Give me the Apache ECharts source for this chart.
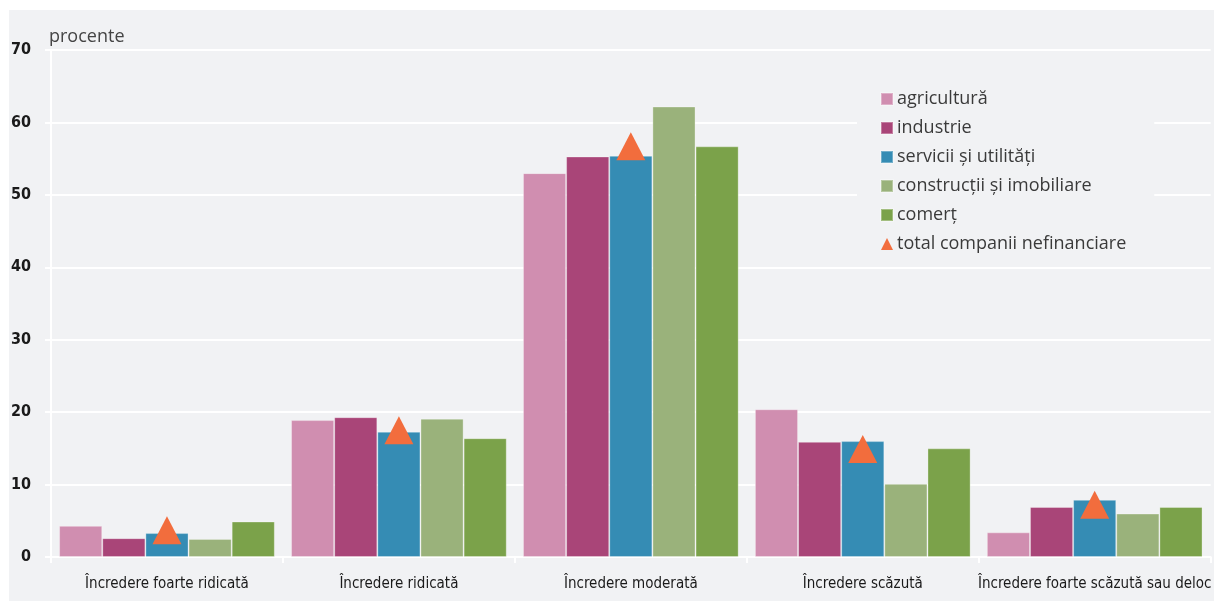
<!DOCTYPE html>
<html>
<head>
<meta charset="utf-8">
<script src="https://cdn.jsdelivr.net/npm/echarts@6/dist/echarts.min.js"></script>
<style>
  html, body { margin: 0; padding: 0; background: #ffffff; }
  #panel { position: absolute; left: 9px; top: 10px; width: 1205px; height: 591px; background: #f1f2f4; }
  #chart { position: absolute; left: -9px; top: -10px; width: 1214px; height: 601px; }
</style>
</head>
<body>
<div id="panel"><div id="chart"></div></div>
<script>
// Categories (confidence level) and per-sector shares, in percent
const categories = [
  'Încredere foarte ridicată',
  'Încredere ridicată',
  'Încredere moderată',
  'Încredere scăzută',
  'Încredere foarte scăzută sau deloc'
];
const agricultura   = [4.3, 18.9, 53.0, 20.4, 3.4];
const industrie     = [2.6, 19.3, 55.3, 15.9, 6.9];
const servicii      = [3.3, 17.3, 55.4, 16.0, 7.9];
const constructii   = [2.5, 19.1, 62.2, 10.1, 6.0];
const comert        = [4.9, 16.4, 56.7, 15.0, 6.9];
const totalCompanii = [3.7, 17.5, 56.7, 14.9, 7.2];

const yTicks = { min: 0, max: 70, interval: 10 };

const narrow = "'Liberation Sans Narrow', 'DejaVu Sans Condensed', 'Arial Narrow', sans-serif";
const body = "'Open Sans', 'Noto Sans', sans-serif";

const barStyle = (color) => ({ color: color, borderColor: 'rgba(255,255,255,0.3)', borderWidth: 1 });

const barSeries = [
  ['agricultură', agricultura, '#d08eb0'],
  ['industrie', industrie, '#a94578'],
  ['servicii și utilități', servicii, '#358cb4'],
  ['construcții și imobiliare', constructii, '#9ab27b'],
  ['comerț', comert, '#7ba24a']
].map(([name, data, color]) => ({
  name: name,
  type: 'bar',
  data: data,
  barGap: '0%',
  barCategoryGap: '7%',
  itemStyle: barStyle(color),
  emphasis: { disabled: true }
}));

const chart = echarts.init(document.getElementById('chart'), null, { renderer: 'canvas' });
chart.setOption({
  backgroundColor: 'transparent',
  animation: false,
  grid: { left: 51, right: -1, top: 50, bottom: 44, containLabel: false },
  legend: {
    orient: 'vertical',
    left: 857,
    top: 80,
    padding: [9, 28, 9, 23],
    backgroundColor: '#f1f2f4',
    itemWidth: 12,
    itemHeight: 12,
    itemGap: 9,
    textStyle: { fontFamily: body, fontSize: 18, color: '#3a3a3a', lineHeight: 20, padding: [0, 0, 0, -1] },
    data: [
      { name: 'agricultură', icon: 'rect' },
      { name: 'industrie', icon: 'rect' },
      { name: 'servicii și utilități', icon: 'rect' },
      { name: 'construcții și imobiliare', icon: 'rect' },
      { name: 'comerț', icon: 'rect' },
      { name: 'total companii nefinanciare', icon: 'triangle', itemStyle: { color: '#f26d3d', opacity: 1 } }
    ]
  },
  xAxis: {
    type: 'category',
    data: categories,
    axisLine: { show: true, lineStyle: { color: '#ffffff', width: 2 } },
    axisTick: { show: true, length: 6, lineStyle: { color: '#ffffff', width: 2 } },
    axisLabel: { interval: 0, fontFamily: narrow, fontSize: 15, color: '#1a1a1a', margin: 20 },
    splitLine: { show: false }
  },
  yAxis: {
    type: 'value',
    min: yTicks.min,
    max: yTicks.max,
    interval: yTicks.interval,
    name: 'procente',
    nameLocation: 'end',
    nameGap: 4,
    nameTextStyle: { fontFamily: body, fontSize: 18, color: '#444444', align: 'left', padding: [0, 0, 0, -2] },
    axisLine: { show: true, lineStyle: { color: '#ffffff', width: 2 } },
    axisTick: { show: true, length: 6, lineStyle: { color: '#ffffff', width: 2 } },
    axisLabel: { fontFamily: narrow, fontSize: 16, fontWeight: 'bold', color: '#1a1a1a', margin: 20 },
    splitLine: { show: true, lineStyle: { color: '#ffffff', width: 2 } }
  },
  series: barSeries.concat([{
    name: 'total companii nefinanciare',
    type: 'scatter',
    data: totalCompanii,
    symbol: 'triangle',
    symbolSize: [29, 28],
    itemStyle: { color: '#f26d3d', opacity: 1 },
    z: 5,
    emphasis: { disabled: true }
  }])
});
</script>
</body>
</html>
